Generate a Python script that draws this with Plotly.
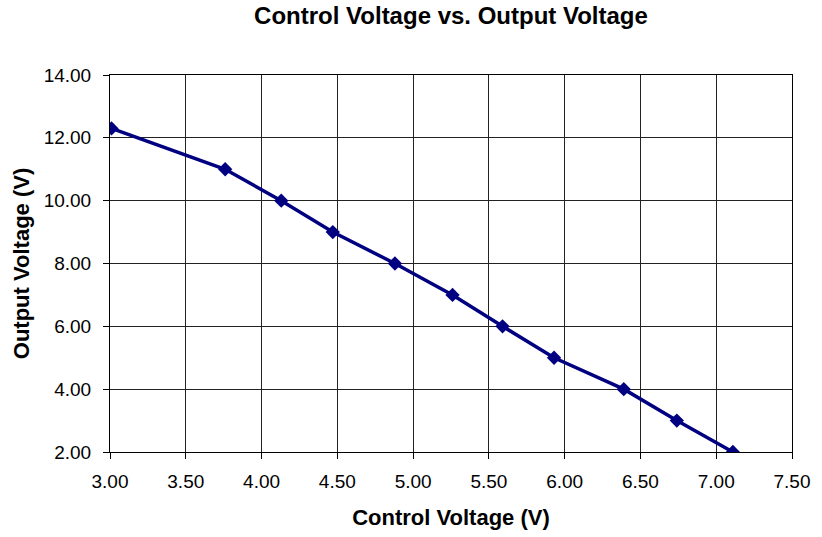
import plotly.graph_objects as go

control_v = [3.01, 3.76, 4.13, 4.47, 4.88, 5.26, 5.59, 5.93, 6.39, 6.74, 7.11]
output_v = [12.3, 11.0, 10.0, 9.0, 8.0, 7.0, 6.0, 5.0, 4.0, 3.0, 2.0]

fig = go.Figure()
fig.add_trace(go.Scatter(
    x=control_v, y=output_v, mode="lines+markers",
    line=dict(color="#000080", width=3.5),
    marker=dict(symbol="diamond", size=11, color="#000080"),
    showlegend=False,
))

font = "Arial, Liberation Sans, sans-serif"
W, H = 822, 537
fig.update_layout(
    width=W, height=H,
    margin=dict(l=110, r=21, t=75, b=78),
    paper_bgcolor="white", plot_bgcolor="white",
    font=dict(family=font, size=19, color="black"),
    title=dict(text="<b>Control Voltage vs. Output Voltage</b>", x=0.5, xanchor="center",
               xref="paper", yref="container",
               y=1 - 16 / H, yanchor="middle", font=dict(size=24)),
)
fig.update_xaxes(
    range=[3.0, 7.5], dtick=0.5, tickformat=".2f",
    showgrid=True, gridcolor="#222222", gridwidth=1,
    showline=True, linecolor="black", linewidth=1, mirror=True,
    ticks="outside", ticklen=6, tickcolor="black", zeroline=False,
    ticklabelstandoff=6,
    title=dict(text="<b>Control Voltage (V)</b>", font=dict(size=22), standoff=18),
)
fig.update_yaxes(
    range=[2.0, 14.0], dtick=2, tickformat=".2f",
    showgrid=True, gridcolor="#222222", gridwidth=1,
    showline=True, linecolor="black", linewidth=1, mirror=True,
    ticks="outside", ticklen=6, tickcolor="black", zeroline=False,
    ticklabelstandoff=8,
    title=dict(text="<b>Output Voltage (V)</b>", font=dict(size=22), standoff=7),
)

fig.write_html("out.html", config={"displayModeBar": False},
               post_script="document.body.style.margin='0';")
